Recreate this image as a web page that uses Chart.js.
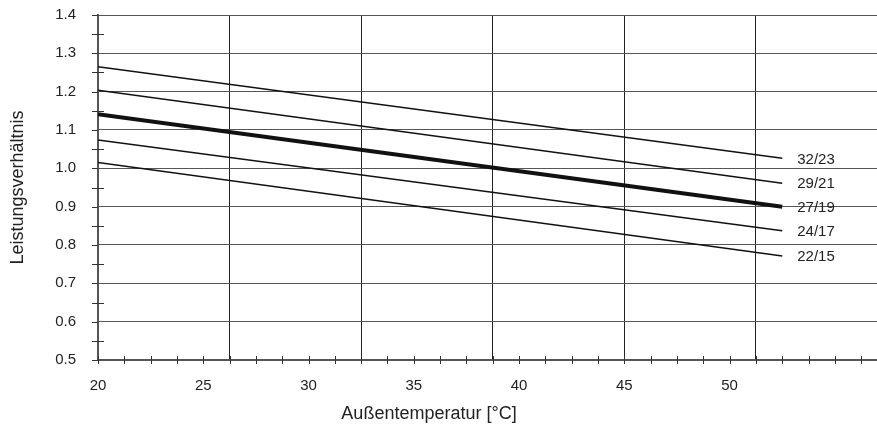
<!DOCTYPE html>
<html lang="de">
<head>
<meta charset="utf-8">
<title>Leistungsverhältnis</title>
<script src="https://cdn.jsdelivr.net/npm/chart.js@4.4.1/dist/chart.umd.min.js"></script>
<style>
  html, body { margin: 0; padding: 0; background: #fff; }
  #wrap { width: 877px; height: 426px; }
</style>
</head>
<body>
<div id="wrap"><canvas id="chart" width="877" height="426"></canvas></div>
<script>
// ---- data ----
var temps = [20, 52.5];                       // Außentemperatur [°C]
var curveNames = ['32/23', '29/21', '27/19', '24/17', '22/15'];
var ratio3223 = [1.265, 1.026];
var ratio2921 = [1.204, 0.961];
var ratio2719 = [1.141, 0.900];
var ratio2417 = [1.074, 0.837];
var ratio2215 = [1.015, 0.771];
var curveValues = [ratio3223, ratio2921, ratio2719, ratio2417, ratio2215];
var curveWidths = [1.5, 1.5, 4, 1.5, 1.5];

// axis setup
var xMin = 20, xMax = 57, xStep = 1.25, xLabelMax = 50;
var yMin = 0.5, yMax = 1.4, yStep = 0.05;

var FONT = "'Liberation Sans', Arial, sans-serif";
var INK = '#222';

function toPoints(vals) {
    return temps.map(function (t, i) { return { x: t, y: vals[i] }; });
}

var datasets = curveNames.map(function (name, i) {
    return {
        label: name,
        data: toPoints(curveValues[i]),
        borderColor: '#111',
        borderWidth: curveWidths[i],
        pointRadius: 0,
        fill: false,
        tension: 0
    };
});

function near(a, b) { return Math.abs(a - b) < 1e-6; }
function isMultiple(v, base, step) {
    var k = (v - base) / step;
    return near(k, Math.round(k));
}

// fixed box sizes, no extra room for overhanging labels
function fixBox(w, h) {
    return function (s) {
        if (w !== null) s.width = w;
        if (h !== null) s.height = h;
        s.paddingTop = 0; s.paddingBottom = 0;
        s.paddingLeft = 0; s.paddingRight = 0;
    };
}

// small tick marks crossing the axes (every 1.25 °C and every 0.05)
var tickMarks = {
    id: 'tickMarks',
    afterDraw: function (chart) {
        var ctx = chart.ctx, xs = chart.scales.x, ys = chart.scales.y, a = chart.chartArea;
        ctx.save();
        ctx.strokeStyle = '#333';
        ctx.lineWidth = 1;
        ctx.beginPath();
        var n = Math.round((xMax - xMin) / xStep);
        for (var i = 0; i <= n; i++) {
            var v = xMin + i * xStep;
            if (v > xMax) break;
            var px = Math.round(xs.getPixelForValue(v)) + 0.5;
            ctx.moveTo(px, a.bottom - 4);
            ctx.lineTo(px, a.bottom + 4);
        }
        var m = Math.round((yMax - yMin) / yStep);
        for (var j = 0; j <= m; j++) {
            var yv = yMin + j * yStep;
            var py = Math.round(ys.getPixelForValue(yv)) + 0.5;
            var minor = (j % 2) === 1;
            ctx.moveTo(a.left - 6, py);
            ctx.lineTo(minor ? a.left + 6 : a.left, py);
        }
        ctx.stroke();
        ctx.restore();
    }
};

// curve names at the right end of each line + x axis title
var curveLabels = {
    id: 'curveLabels',
    afterDraw: function (chart) {
        var ctx = chart.ctx;
        ctx.save();
        ctx.fillStyle = INK;
        ctx.font = '15px ' + FONT;
        ctx.textAlign = 'left';
        ctx.textBaseline = 'middle';
        chart.data.datasets.forEach(function (ds, i) {
            var meta = chart.getDatasetMeta(i);
            var last = meta.data[meta.data.length - 1];
            ctx.fillText(ds.label, last.x + 15, last.y + 1);
        });
        ctx.font = '18px ' + FONT;
        ctx.textAlign = 'center';
        ctx.fillText('Außentemperatur [°C]', 429, 414);
        ctx.restore();
    }
};

new Chart(document.getElementById('chart'), {
    type: 'line',
    data: { datasets: datasets },
    options: {
        responsive: false,
        animation: false,
        layout: { padding: { top: 15, right: 0, bottom: 0, left: 0 } },
        plugins: {
            legend: { display: false },
            tooltip: { enabled: false }
        },
        scales: {
            x: {
                type: 'linear',
                min: xMin,
                max: xMax,
                afterFit: fixBox(null, 66),
                border: { display: true, color: '#555', width: 2 },
                grid: {
                    drawTicks: false,
                    lineWidth: 1,
                    color: function (c) {
                        var v = c.tick && c.tick.value;
                        if (v === undefined || near(v, xMin)) return 'rgba(0,0,0,0)';
                        return isMultiple(v, xMin, 6.25) ? '#222' : 'rgba(0,0,0,0)';
                    }
                },
                ticks: {
                    stepSize: xStep,
                    autoSkip: false,
                    maxRotation: 0,
                    padding: 17,
                    color: INK,
                    font: { family: FONT, size: 15 },
                    callback: function (v) {
                        return (isMultiple(v, 0, 5) && v <= xLabelMax + 1e-6) ? String(Math.round(v)) : '';
                    }
                }
            },
            y: {
                type: 'linear',
                min: yMin,
                max: yMax,
                afterFit: fixBox(98, null),
                border: { display: true, color: '#555', width: 2 },
                grid: {
                    drawTicks: false,
                    lineWidth: 1,
                    color: function (c) {
                        var v = c.tick && c.tick.value;
                        if (v === undefined || near(v, yMin)) return 'rgba(0,0,0,0)';
                        return isMultiple(v, 0, 0.1) ? '#555' : 'rgba(0,0,0,0)';
                    }
                },
                ticks: {
                    stepSize: yStep,
                    autoSkip: false,
                    padding: 22,
                    color: INK,
                    font: { family: FONT, size: 15 },
                    callback: function (v) {
                        return isMultiple(v, 0, 0.1) ? v.toFixed(1) : '';
                    }
                },
                title: {
                    display: true,
                    text: 'Leistungsverhältnis',
                    color: INK,
                    font: { family: FONT, size: 18 },
                    padding: { top: 7, bottom: 0 }
                }
            }
        }
    },
    plugins: [tickMarks, curveLabels]
});
</script>
</body>
</html>
